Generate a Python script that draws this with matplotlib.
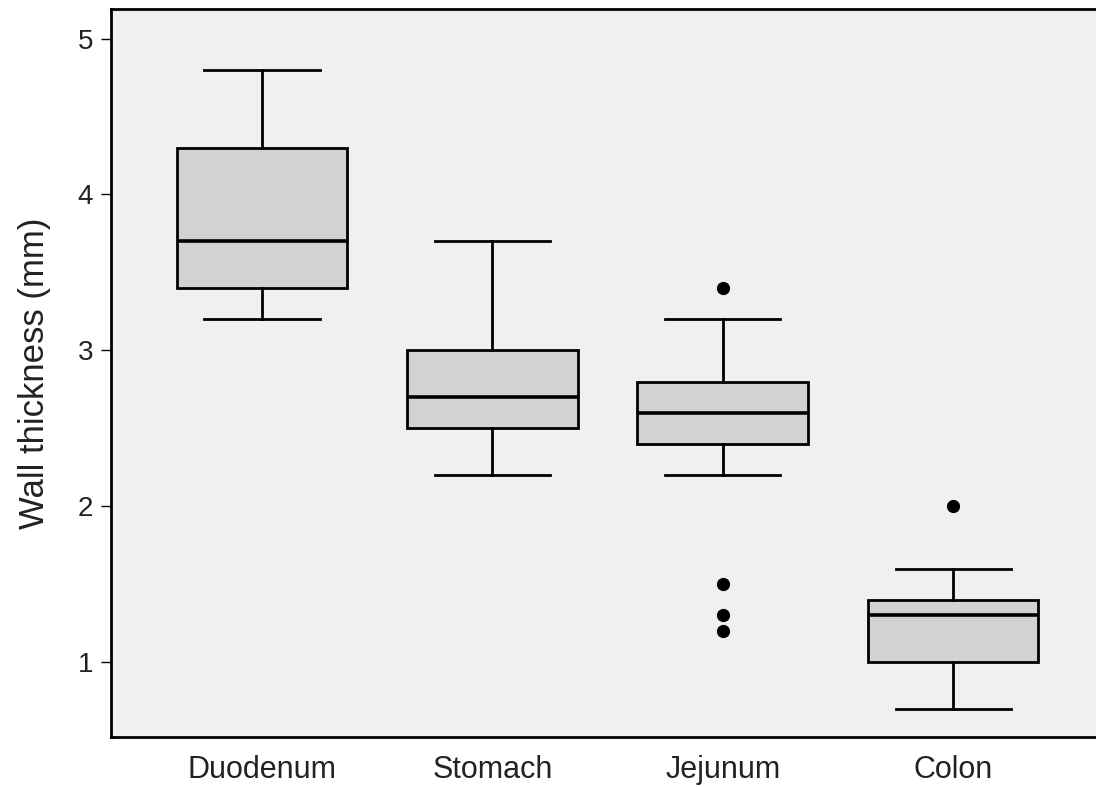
import matplotlib
matplotlib.use("Agg")
import matplotlib.pyplot as plt

plt.rcParams['font.family'] = ['Liberation Sans', 'DejaVu Sans']

# data
sites = ["Duodenum", "Stomach", "Jejunum", "Colon"]
whisker_lo = [3.2, 2.2, 2.2, 0.7]
q1 = [3.4, 2.5, 2.4, 1.0]
median = [3.7, 2.7, 2.6, 1.3]
q3 = [4.3, 3.0, 2.8, 1.4]
whisker_hi = [4.8, 3.7, 3.2, 1.6]
outliers = [[], [], [3.4, 1.5, 1.3, 1.2], [2.0]]

stats = []
for i in range(len(sites)):
    stats.append(dict(label=sites[i], whislo=whisker_lo[i], q1=q1[i], med=median[i],
                      q3=q3[i], whishi=whisker_hi[i], fliers=outliers[i]))

fig = plt.figure(figsize=(10.96, 7.87), dpi=100)
ax = fig.add_axes([0.1013, 0.0635, 0.8987, 0.9251])
ax.set_facecolor('#f0f0f0')

ax.bxp(stats, positions=[1, 2, 3, 4], widths=0.74, capwidths=0.5, patch_artist=True,
       boxprops=dict(facecolor='#d2d2d2', edgecolor='black', linewidth=2),
       medianprops=dict(color='black', linewidth=2.6),
       whiskerprops=dict(color='black', linewidth=2),
       capprops=dict(color='black', linewidth=2),
       flierprops=dict(marker='o', markerfacecolor='black', markeredgecolor='black',
                       markersize=8.5))

ax.set_xlim(0.345, 4.62)
ax.set_ylim(0.52, 5.19)
ax.set_yticks([1, 2, 3, 4, 5])
ax.set_ylabel('Wall thickness (mm)', fontsize=25, labelpad=19, color='#222222')
ax.tick_params(axis='y', length=7, width=1, labelsize=20, pad=6)
ax.tick_params(axis='x', length=0, labelsize=22, pad=13)
for lbl in ax.get_xticklabels() + ax.get_yticklabels():
    lbl.set_color('#222222')

for side in ['left', 'bottom', 'top']:
    ax.spines[side].set_linewidth(2)
    ax.spines[side].set_color('black')
ax.spines['right'].set_visible(False)

fig.savefig('out.png', dpi=100)
